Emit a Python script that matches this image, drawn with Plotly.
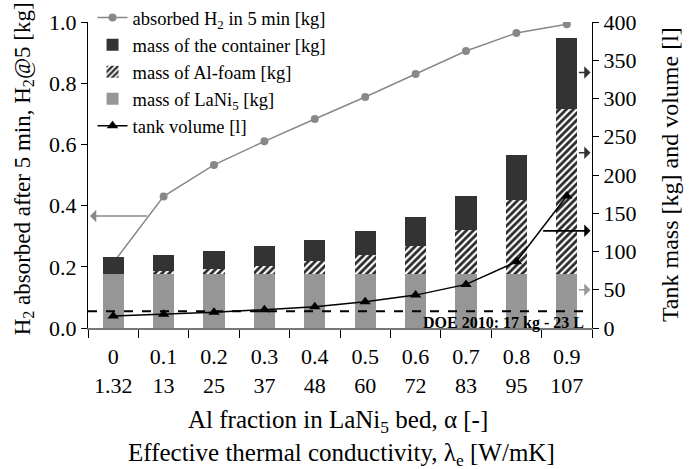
import plotly.graph_objects as go

alpha_labels = ["0", "0.1", "0.2", "0.3", "0.4", "0.5", "0.6", "0.7", "0.8", "0.9"]
lambda_labels = ["1.32", "13", "25", "37", "48", "60", "72", "83", "95", "107"]

h2_absorbed = [0.213, 0.43, 0.533, 0.61, 0.683, 0.755, 0.83, 0.905, 0.964, 0.993]
mass_lani5 = [71, 71, 71, 71, 71, 71, 71, 71, 71, 71]
mass_foam = [0, 3.5, 6, 10, 16, 24.8, 36.6, 56.6, 96.7, 215]
mass_container = [22, 21, 23.5, 26, 28, 31.4, 38, 45.3, 58.8, 92.8]
tank_volume = [15.7, 17.9, 20.5, 24, 27.9, 34.4, 43, 57, 86.7, 172.5]
doe_volume = 22

cats = [f"{a}<br>{l}" for a, l in zip(alpha_labels, lambda_labels)]

FONT = "Times New Roman, Liberation Serif, Tinos, serif"

fig = go.Figure()

fig.add_trace(go.Bar(
    x=cats, y=mass_lani5, name="mass of LaNi<sub>5</sub> [kg]", yaxis="y2",
    marker=dict(color="#969696", line=dict(width=0)),
    legendrank=4,
))
fig.add_trace(go.Bar(
    x=cats, y=mass_foam, name="mass of Al-foam [kg]", yaxis="y2",
    marker=dict(color="white", line=dict(width=0),
                pattern=dict(shape="/", fgcolor="#2a2a2a", bgcolor="white", fgopacity=1,
                             size=5, solidity=0.55)),
    legendrank=3,
))
fig.add_trace(go.Bar(
    x=cats, y=mass_container, name="mass of the container [kg]", yaxis="y2",
    marker=dict(color="#333333", line=dict(width=0)),
    legendrank=2,
))
fig.add_trace(go.Scatter(
    x=cats, y=h2_absorbed, name="absorbed H<sub>2</sub> in 5 min [kg]", yaxis="y",
    mode="lines+markers", line=dict(color="#888888", width=1.5),
    marker=dict(symbol="circle", size=8, color="#888888"),
    legendrank=1,
))
fig.add_trace(go.Scatter(
    x=cats, y=tank_volume, name="tank volume [l]", yaxis="y2",
    mode="lines+markers", line=dict(color="black", width=1.5),
    marker=dict(symbol="triangle-up", size=10, color="black"),
    legendrank=5,
))

fig.add_shape(type="line", xref="x domain", x0=0, x1=1, yref="y2",
              y0=doe_volume, y1=doe_volume, line=dict(color="black", width=2, dash="dash"))

arrows = [
    # (x_head, y_head, x_tail, y_tail, yref, color)
    (-0.46, 0.366, 0.7, 0.366, "y", "#888888"),
    (9.47, 334, 9.21, 334, "y2", "#333333"),
    (9.47, 229, 9.21, 229, "y2", "#333333"),
    (9.47, 127, 8.5, 127, "y2", "black"),
    (9.47, 50, 9.21, 50, "y2", "#999999"),
]
for xh, yh, xt, yt, yr, col in arrows:
    fig.add_annotation(x=xh, y=yh, ax=xt, ay=yt, xref="x", yref=yr, axref="x", ayref=yr,
                       text="", showarrow=True, arrowhead=1, arrowsize=1.3,
                       arrowwidth=1.6, arrowcolor=col)

fig.add_annotation(x=0.988, xref="paper", y=doe_volume, yref="y2", yanchor="top", xanchor="right",
                   text="<b>DOE 2010: 17 kg - 23 L</b>", showarrow=False,
                   font=dict(family=FONT, size=16, color="black"), yshift=-1)

fig.add_annotation(x=0.497, xref="paper", y=-0.307, yref="paper", yanchor="middle", xanchor="center",
                   text="Al fraction in LaNi<sub>5</sub> bed, α [-]", showarrow=False,
                   font=dict(family=FONT, size=25, color="black"))
fig.add_annotation(x=0.503, xref="paper", y=-0.415, yref="paper", yanchor="middle", xanchor="center",
                   text="Effective thermal conductivity, λ<sub>e</sub> [W/mK]", showarrow=False,
                   font=dict(family=FONT, size=25, color="black"))
fig.add_annotation(x=-0.128, xref="paper", y=0.52, yref="paper", yanchor="middle", xanchor="center",
                   text="H<sub>2</sub> absorbed after 5 min, H<sub>2</sub>@5 [kg]", showarrow=False,
                   textangle=-90, font=dict(family=FONT, size=23, color="black"))
fig.add_annotation(x=1.155, xref="paper", y=0.5, yref="paper", yanchor="middle", xanchor="center",
                   text="Tank mass [kg] and volume [l]", showarrow=False,
                   textangle=-90, font=dict(family=FONT, size=24, color="black"))

fig.update_layout(
    width=689, height=469,
    margin=dict(l=88, r=97, t=22, b=141, autoexpand=False),
    paper_bgcolor="white", plot_bgcolor="white",
    barmode="stack", bargap=0.58,
    font=dict(family=FONT, size=22, color="black"),
    showlegend=True,
    legend=dict(x=0.009, y=1.075, xanchor="left", yanchor="top",
                font=dict(family=FONT, size=18.5, color="black"),
                bgcolor="rgba(0,0,0,0)", traceorder="normal", tracegroupgap=0,
                itemwidth=30),
    xaxis=dict(type="category", tickson="boundaries", ticks="outside", ticklen=8,
               tickcolor="black", showline=True, linecolor="#777777", linewidth=1.5,
               showgrid=False, tickfont=dict(family=FONT, size=22), range=[-0.5, 9.5],
               ticklabelstandoff=8, automargin=False),
    yaxis=dict(range=[0, 1.0], dtick=0.2, tickformat=".1f", ticks="outside", ticklen=6,
               showline=True, linecolor="black", linewidth=1, tickcolor="black",
               showgrid=False, zeroline=False, tickfont=dict(family=FONT, size=22),
               automargin=False),
    yaxis2=dict(range=[0, 400], dtick=50, overlaying="y", side="right", ticks="outside",
                ticklen=6, showline=True, linecolor="black", linewidth=1, tickcolor="black",
                showgrid=False, zeroline=False, tickfont=dict(family=FONT, size=22),
                automargin=False),
)

fig.write_html("out.html")
